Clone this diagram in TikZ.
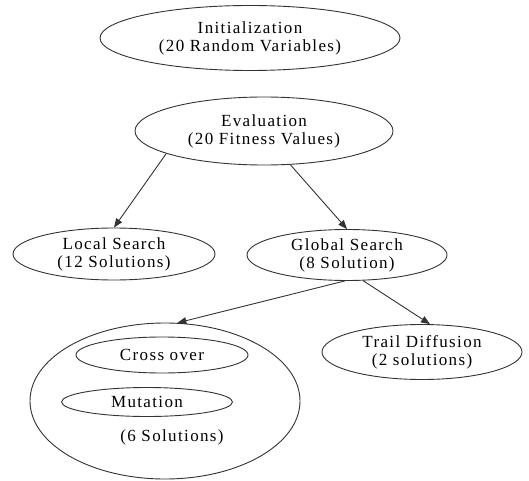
\documentclass[tikz,border=0pt]{standalone}
\usepackage{fontspec}
\setmainfont[LetterSpace=8]{Liberation Serif}
\usetikzlibrary{arrows.meta,shapes.geometric}

\begin{document}
\begin{tikzpicture}[x=1pt,y=1pt,
    stage/.style={draw=black!80,line width=0.9pt,ellipse,inner sep=0pt,align=center,
        font=\fontsize{17}{18}\selectfont},
    flow/.style={-{Triangle[length=9pt,width=7pt]},line width=0.9pt,draw=black!80}]
    \useasboundingbox (0,0) rectangle (529,480);
    % upper stages
    \node[stage,minimum width=300pt,minimum height=65pt] (init) at (250,442) {Initialization\\(20 Random Variables)};
    \node[stage,minimum width=258pt,minimum height=68pt] (eval) at (264,349) {Evaluation\\(20 Fitness Values)};
    \node[stage,minimum width=202pt,minimum height=52pt] (local) at (114,226) {Local Search\\(12 Solutions)};
    \node[stage,minimum width=200pt,minimum height=51pt] (global) at (347,225) {Global Search\\(8 Solution)};
    % lower stages
    \node[stage,minimum width=270pt,minimum height=156pt] (genetic) at (165,79) {};
    \node[stage,minimum width=172pt,minimum height=36pt] (cross) at (162,125) {Cross over};
    \node[stage,minimum width=171pt,minimum height=29pt] (mutate) at (147,78) {Mutation};
    \node[font=\fontsize{17}{18}\selectfont] (six) at (172,43) {(6 Solutions)};
    \node[stage,minimum width=200pt,minimum height=55pt] (trail) at (422,128) {Trail Diffusion\\(2 solutions)};
    % arrows
    \draw[flow] (eval.193) -- (local.north);
    \draw[flow] (eval.308) -- (global.north);
    \draw[flow] (global.265) -- (genetic.81);
    \draw[flow] (global.302) -- (trail.74);
\end{tikzpicture}
\end{document}
